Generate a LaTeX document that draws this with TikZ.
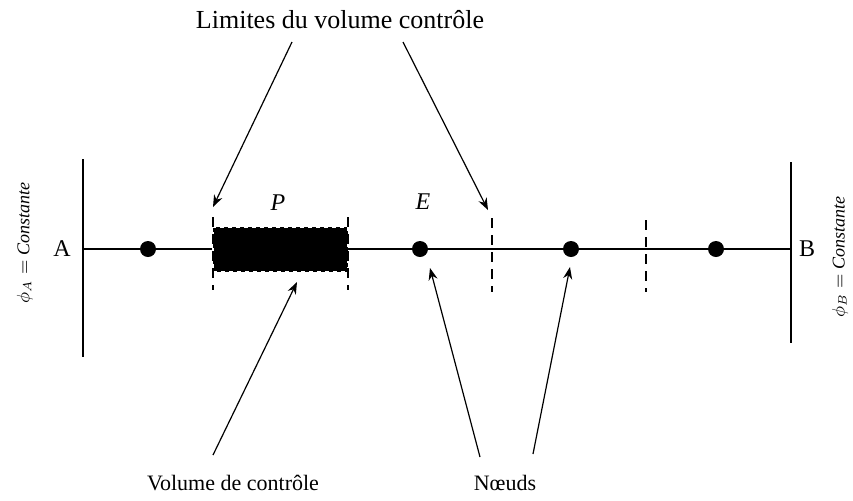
\documentclass[tikz,border=0pt]{standalone}
\usepackage{fontspec}
\setmainfont{Liberation Serif}
\usepackage{tikz}
\usetikzlibrary{arrows.meta, positioning}
\tikzstyle{noeud} = [circle, fill=black, inner sep=0pt, minimum size=8pt]
\tikzstyle{volume} = [rectangle, fill=black, draw=white, line width=1pt, dash pattern=on 2pt off 2pt, minimum width=67.5pt, minimum height=22.5pt, inner sep=0pt]
\tikzstyle{mur} = [line width=1pt]
\tikzstyle{ligne} = [line width=1.2pt]
\tikzstyle{face} = [line width=1.2pt, dash pattern=on 5pt off 3.5pt]
\tikzstyle{arrow} = [semithick,->,>={Stealth[length=6pt,width=4.5pt]}]
\tikzstyle{legende} = [font=\fontsize{11}{13}\selectfont]
\tikzstyle{cl} = [rotate=90, font=\fontsize{9}{11}\selectfont]

\begin{document}
\begin{tikzpicture}[x=0.5pt, y=-0.5pt]
    \useasboundingbox (0,0) rectangle (853,500);

    \coordinate (murA1) at (83,159);
    \coordinate (murA2) at (83,357);
    \coordinate (murB1) at (791,162);
    \coordinate (murB2) at (791,343);
    \coordinate (xA) at (83,249);
    \coordinate (xB) at (791,249);
    \draw [mur] (murA1) -- (murA2);
    \draw [mur] (murB1) -- (murB2);
    \draw [ligne] (xA) -- (xB);

    \node (A) at (62,249) {\fontsize{12}{14}\selectfont A};
    \node (B) at (807,249) {\fontsize{12}{14}\selectfont B};
    \node (clA) [cl] at (25,243) {$\phi_A =$ \textit{Constante}};
    \node (clB) [cl] at (840,257) {$\phi_B =$ \textit{Constante}};

    \node (vc) [volume] at (280.5,249.5) {};
    \node (W) [noeud] at (148,249) {};
    \node (E) [noeud] at (420,249) {};
    \node (EE) [noeud] at (571,249) {};
    \node (EEE) [noeud] at (716,249) {};
    \node (labP) [legende] at (278,203) {\fontsize{12}{14}\selectfont\textit{P}};
    \node (labE) [legende] at (423,202) {\fontsize{12}{14}\selectfont\textit{E}};

    \coordinate (fw1) at (213,217);
    \coordinate (fw2) at (213,290);
    \coordinate (fe1) at (348,217);
    \coordinate (fe2) at (348,290);
    \coordinate (fee1) at (492,218);
    \coordinate (fee2) at (492,292);
    \coordinate (feee1) at (646,220);
    \coordinate (feee2) at (646,292);
    \draw [face] (fw1) -- (fw2);
    \draw [face] (fe1) -- (fe2);
    \draw [face] (fee1) -- (fee2);
    \draw [face] (feee1) -- (feee2);

    \node (lim) [legende] at (340,20) {\fontsize{13}{15}\selectfont Limites du volume contrôle};
    \node (vcl) [legende] at (233,483) {Volume de contrôle};
    \node (nds) [legende] at (505,483) {Nœuds};

    \coordinate (lim1) at (292,42);
    \coordinate (lim2) at (403,42);
    \coordinate (tipw) at (213,207);
    \coordinate (tipe) at (488,210);
    \coordinate (vcl1) at (213,455);
    \coordinate (tipvc) at (297,282);
    \coordinate (nds1) at (480,457);
    \coordinate (nds2) at (533,454);
    \coordinate (tipE) at (430,268);
    \coordinate (tipEE) at (570,267);

    \draw [arrow] (lim1) -- (tipw);
    \draw [arrow] (lim2) -- (tipe);
    \draw [arrow] (vcl1) -- (tipvc);
    \draw [arrow] (nds1) -- (tipE);
    \draw [arrow] (nds2) -- (tipEE);
\end{tikzpicture}
\end{document}
